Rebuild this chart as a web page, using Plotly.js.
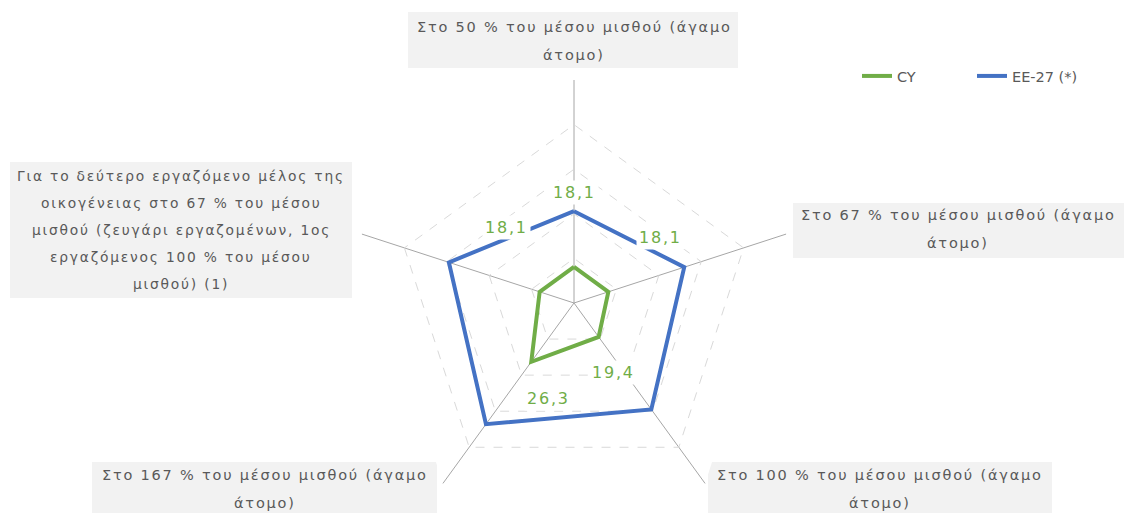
<!DOCTYPE html>
<html>
<head>
<meta charset="utf-8">
<script src="https://cdn.plot.ly/plotly-3.0.1.min.js"></script>
<style>
html, body { margin: 0; padding: 0; overflow: hidden; background: #fff; }
#chart { width: 1124px; height: 540px; }
.annotation-text { letter-spacing: 1.8px; }
</style>
</head>
<body>
<div id="chart"></div>
<script>
// ---- data ----
const categoryLines = [
  ["Στο 50 % του μέσου μισθού (άγαμο", "άτομο)"],
  ["Στο 67 % του μέσου μισθού (άγαμο", "άτομο)"],
  ["Στο 100 % του μέσου μισθού (άγαμο", "άτομο)"],
  ["Στο 167 % του μέσου μισθού (άγαμο", "άτομο)"],
  ["Για το δεύτερο εργαζόμενο μέλος της", "οικογένειας στο 67 % του μέσου", "μισθού (ζευγάρι εργαζομένων, 1ος", "εργαζόμενος 100 % του μέσου", "μισθού) (1)"]
];
const categories = categoryLines.map(l => l.join(" "));
const seriesNames = ["CY", "EE-27 (*)"];
const cyValues = [18.1, 18.1, 19.4, 26.3, 18.1];
const euValues = [30.6, 36.0, 39.5, 43.6, 39.5];

// ---- layout helpers (positions in page pixels) ----
const W = 1124, H = 540;
const px = x => x / W;
const py = y => 1 - y / H;

const catBoxes = [
  {box: [408, 738, 12, 68], cx: 574, ys: [27, 55], size: 14.5},
  {box: [793, 1124, 203, 258], cx: 958, ys: [215, 243], size: 14.5},
  {box: [708, 1052, 462, 520], cx: 880, ys: [475, 503], size: 14.5},
  {box: [92, 437, 462, 520], cx: 265, ys: [475, 503], size: 14.5},
  {box: [10, 352, 162, 298], cx: 181, ys: [176, 203, 230, 257, 284], size: 13.8}
];
const valueLabelPos = [[574, 192], [660, 237], [613, 372], [548, 398], [506, 227]];

const green = "#70AD47", blue = "#4472C4", textGrey = "#595959";

const thetaClosed = categories.concat([categories[0]]);
const traces = [
  {
    type: "scatterpolar", name: seriesNames[0],
    r: cyValues.concat([cyValues[0]]), theta: thetaClosed,
    mode: "lines", line: {color: green, width: 4}, hoverinfo: "skip"
  },
  {
    type: "scatterpolar", name: seriesNames[1],
    r: euValues.concat([euValues[0]]), theta: thetaClosed,
    mode: "lines", line: {color: blue, width: 4}, hoverinfo: "skip"
  }
];

const shapes = catBoxes.map(b => ({
  type: "rect", xref: "paper", yref: "paper", layer: "below",
  x0: px(b.box[0]), x1: px(b.box[1]), y0: py(b.box[3]), y1: py(b.box[2]),
  fillcolor: "#f2f2f2", line: {width: 0}
}));

const annotations = [];
catBoxes.forEach((b, i) => {
  categoryLines[i].forEach((t, j) => {
    annotations.push({
      xref: "paper", yref: "paper", x: px(b.cx), y: py(b.ys[j]),
      xanchor: "center", yanchor: "middle", showarrow: false,
      text: t, font: {family: "DejaVu Sans", size: b.size, color: textGrey}
    });
  });
});
cyValues.forEach((v, i) => {
  annotations.push({
    xref: "paper", yref: "paper", x: px(valueLabelPos[i][0]), y: py(valueLabelPos[i][1]),
    xanchor: "center", yanchor: "middle", showarrow: false,
    text: v.toFixed(1).replace(".", ","), bgcolor: "#ffffff", borderpad: 2,
    font: {family: "DejaVu Sans", size: 16, color: green}
  });
});

const layout = {
  width: W, height: H,
  margin: {l: 0, r: 0, t: 0, b: 0, autoexpand: false},
  paper_bgcolor: "#ffffff",
  showlegend: true,
  legend: {
    orientation: "h", x: px(857), y: py(60), xanchor: "left", yanchor: "top",
    entrywidth: 70, entrywidthmode: "pixels",
    font: {family: "DejaVu Sans", size: 14.5, color: textGrey}, bgcolor: "rgba(0,0,0,0)"
  },
  polar: {
    domain: {x: [px(351), px(797)], y: [py(526), py(80)]},
    gridshape: "linear",
    bgcolor: "#ffffff",
    radialaxis: {
      range: [10, 60.02], tick0: 10, dtick: 10, showticklabels: false, ticks: "",
      showline: false, gridcolor: "#d9d9d9", griddash: "dash", gridwidth: 1
    },
    angularaxis: {
      direction: "clockwise", rotation: 90, showticklabels: false, ticks: "",
      showline: false, gridcolor: "#a6a6a6", gridwidth: 1
    }
  },
  shapes: shapes,
  annotations: annotations
};

Plotly.newPlot("chart", traces, layout, {staticPlot: true, displayModeBar: false});
</script>
</body>
</html>
